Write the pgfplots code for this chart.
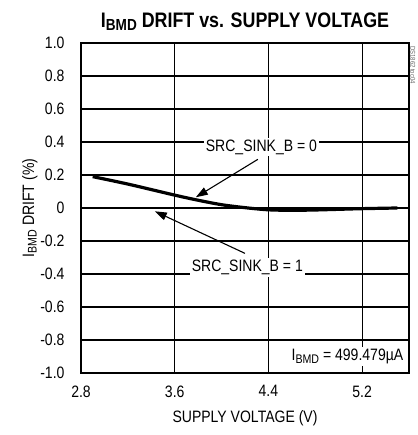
\documentclass[border=0pt]{standalone}
\usepackage{pgfplots}
\pgfplotsset{compat=1.18}
\usepackage{fontspec}
\setmainfont{Liberation Sans}[FakeStretch=0.85]
\usetikzlibrary{arrows.meta}
\newcommand{\sbmd}[1]{\raisebox{-0.3ex}{\fontsize{12.5}{12.5}\selectfont #1}}
\newcommand{\tbmd}[1]{\raisebox{-0.3ex}{\fontsize{16}{16}\selectfont #1}}
\begin{document}
\begin{tikzpicture}
\useasboundingbox (0,0) rectangle (417pt,435pt);
\begin{axis}[
  at={(81pt,62pt)}, anchor=south west,
  scale only axis, width=328pt, height=330pt,
  xmin=2.8, xmax=5.6, ymin=-1, ymax=1,
  xtick={2.8,3.6,4.4,5.2}, ytick={-1,-0.8,...,1.01},
  xticklabels={2.8,3.6,4.4,5.2},
  yticklabels={-1.0,-0.8,-0.6,-0.4,-0.2,0,0.2,0.4,0.6,0.8,1.0},
  grid=major, major grid style={black, line width=1.1pt},
  major tick length=0pt,
  axis line style={line width=2.6pt},
  ticklabel style={font=\fontsize{16.5}{16.5}\selectfont},
  xticklabel style={yshift=-9pt},
  yticklabel style={xshift=-13pt},
  xlabel={SUPPLY VOLTAGE (V)},
  ylabel={I\sbmd{BMD} DRIFT (\%)},
  label style={font=\fontsize{16.5}{16.5}\selectfont},
  xlabel style={yshift=-6pt},
  ylabel style={yshift=-4pt},
  title={\bfseries I\tbmd{BMD} DRIFT vs. SUPPLY VOLTAGE},
  title style={font=\fontsize{21}{21}\selectfont, yshift=3pt},
  clip=false,
]
\addplot[black, line width=1.8pt] coordinates {(2.9,0) (5.5,0)};
\addplot[black, line width=3.2pt, smooth] coordinates {
 (2.9,0.19) (3.2,0.145) (3.6,0.078) (3.8,0.047) (4.0,0.02) (4.2,0.002)
 (4.4,-0.011) (4.6,-0.014) (4.8,-0.012) (5.0,-0.008) (5.2,-0.004) (5.5,0.0)};
\draw[line width=1.1pt, -{Triangle[length=12pt,width=8pt]}] (axis cs:4.31,0.295) -- (axis cs:3.78,0.065);
\draw[line width=1.1pt, -{Triangle[length=12pt,width=8pt]}] (axis cs:4.2,-0.275) -- (axis cs:3.43,-0.02);
\node[fill=white, inner sep=2pt, font=\fontsize{16.5}{16.5}\selectfont] at (axis cs:4.34,0.37) {SRC\_SINK\_B = 0};
\node[fill=white, inner sep=2pt, font=\fontsize{16.5}{16.5}\selectfont] at (axis cs:4.22,-0.36) {SRC\_SINK\_B = 1};
\node[fill=white, inner sep=2pt, font=\fontsize{16.5}{16.5}\selectfont, anchor=east] at (axis cs:5.57,-0.9) {I\sbmd{BMD} = 499.479µA};
\node[rotate=-90, font=\fontsize{7}{7}\selectfont, text=black!60, anchor=south west, inner sep=1pt] at (axis cs:5.6,1) {\hspace{2pt}DS1862 toc04};
\end{axis}
\end{tikzpicture}
\end{document}
